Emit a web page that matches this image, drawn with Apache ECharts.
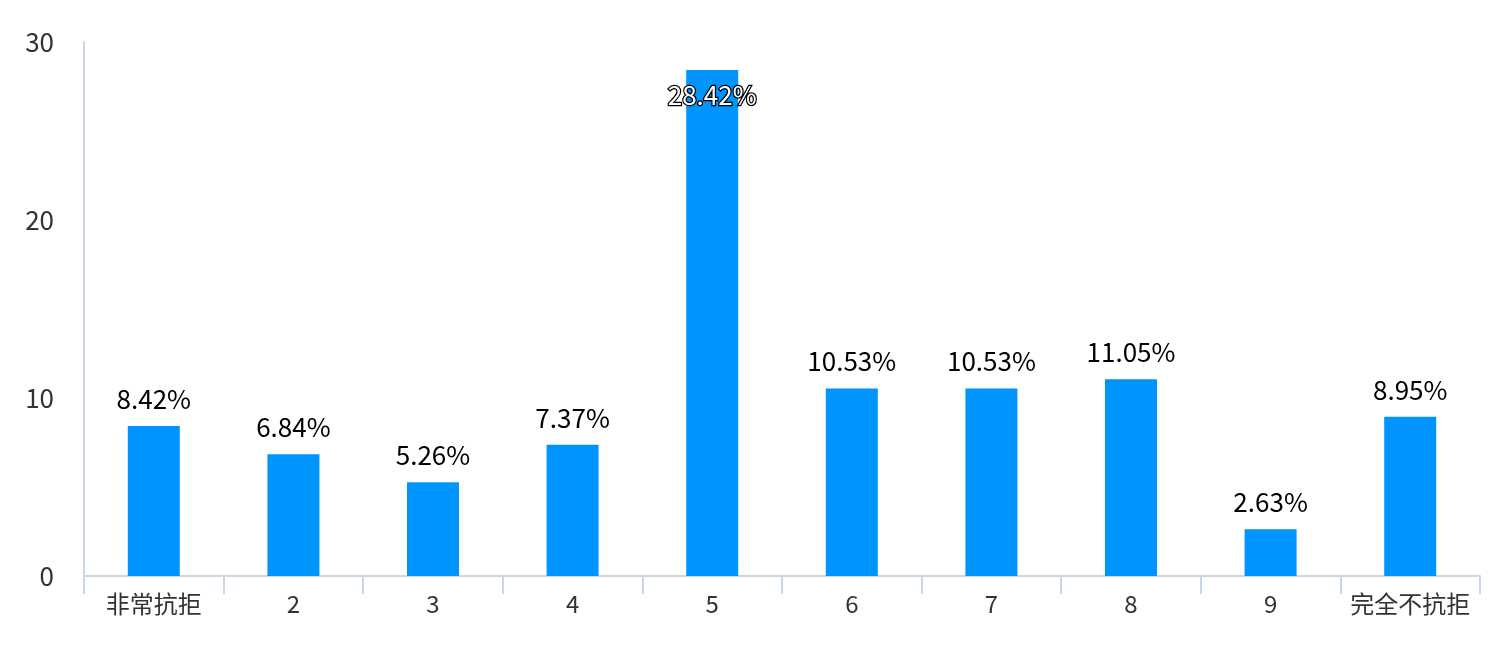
<!DOCTYPE html>
<html>
<head>
<meta charset="utf-8">
<script src="https://cdn.jsdelivr.net/npm/echarts@6/dist/echarts.min.js"></script>
<style>
html,body{margin:0;padding:0;background:#fff;}
#main{width:1492px;height:646px;}
</style>
</head>
<body>
<div id="main"></div>
<script>
var categories = ['非常抗拒', '2', '3', '4', '5', '6', '7', '8', '9', '完全不抗拒'];
var values = [8.42, 6.84, 5.26, 7.37, 28.42, 10.53, 10.53, 11.05, 2.63, 8.95];
var yTicks = [0, 10, 20, 30];

var FONT = '"Noto Sans CJK SC", "Noto Sans", sans-serif';
var chart = echarts.init(document.getElementById('main'));

var seriesData = values.map(function (v) {
  if (v > 25) {
    return {
      value: v,
      label: {
        position: 'insideTop',
        distance: 12,
        color: '#fff',
        textBorderColor: '#000',
        textBorderWidth: 2.5
      }
    };
  }
  return v;
});

chart.setOption({
  animation: false,
  grid: { left: 84, right: 12, top: 42, bottom: 70, containLabel: false },
  xAxis: {
    type: 'category',
    data: categories,
    axisLine: { show: true, lineStyle: { color: '#ccd6eb', width: 2 } },
    axisTick: { show: true, alignWithLabel: false, length: 18, lineStyle: { color: '#ccd6eb', width: 2 } },
    axisLabel: { color: '#333', fontSize: 24, fontFamily: FONT, margin: 16, interval: 0 },
    splitLine: { show: false }
  },
  yAxis: {
    type: 'value',
    min: yTicks[0],
    max: yTicks[yTicks.length - 1],
    interval: 10,
    axisLine: { show: true, lineStyle: { color: '#ccd6eb', width: 2 } },
    axisTick: { show: false },
    axisLabel: { color: '#333', fontSize: 26, fontFamily: FONT, margin: 30 },
    splitLine: { show: false }
  },
  series: [{
    type: 'bar',
    data: seriesData,
    barWidth: 52,
    itemStyle: { color: '#0094ff' },
    label: {
      show: true,
      position: 'top',
      distance: 14,
      color: '#000',
      fontSize: 26,
      fontFamily: FONT,
      formatter: function (p) { return p.value.toFixed(2) + '%'; }
    }
  }]
});
</script>
</body>
</html>
